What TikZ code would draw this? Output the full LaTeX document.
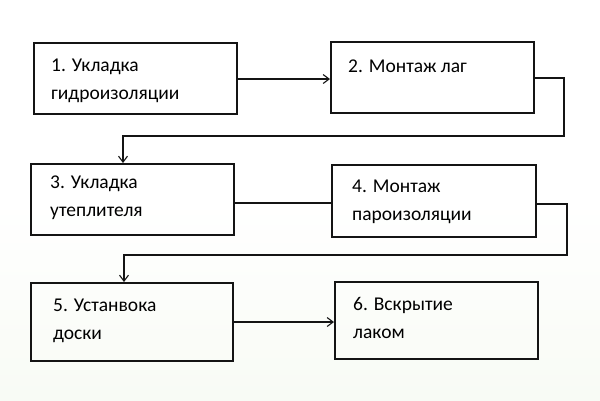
\documentclass[tikz,border=0pt]{standalone}
\usepackage{fontspec}
\setmainfont{Carlito}
\usetikzlibrary{arrows.meta}
\definecolor{bgbottom}{RGB}{248,251,245}
\definecolor{linec}{RGB}{20,20,20}
\newcommand{\twoline}[2]{\begin{tabular}[t]{@{}l@{}}#1\\#2\end{tabular}}
\tikzset{
  stepbox/.style={draw=linec, line width=1.6pt, inner sep=0pt, anchor=north west},
  steptext/.style={anchor=base west, inner sep=0pt, font=\fontsize{19.5}{28}\selectfont, text=black},
  conn/.style={draw=linec, line width=1.1pt},
  arr/.style={conn, -{Straight Barb[length=6pt, width=9pt, line width=1.1pt]}}
}
\begin{document}
\begin{tikzpicture}[x=1pt, y=-1pt]
\useasboundingbox (0,0) rectangle (600,400);
\shade[top color=white, bottom color=bgbottom, middle color=white] (0,0) rectangle (600,400);
% boxes
\node[stepbox, minimum width=203pt, minimum height=71pt] (b1) at (33,42) {};
\node[stepbox, minimum width=203pt, minimum height=71pt] (b2) at (330,41) {};
\node[stepbox, minimum width=203pt, minimum height=71pt] (b3) at (30,163) {};
\node[stepbox, minimum width=204pt, minimum height=72pt] (b4) at (331,164) {};
\node[stepbox, minimum width=202pt, minimum height=78pt] (b5) at (30,282) {};
\node[stepbox, minimum width=203pt, minimum height=77pt] (b6) at (334,281) {};
% texts
\node[steptext] (t1) at (51,71) {\twoline{1. Укладка}{гидроизоляции}};
\node[steptext] (t2) at (348,72) {2. Монтаж лаг};
\node[steptext] (t3) at (50,188) {\twoline{3. Укладка}{утеплителя}};
\node[steptext] (t4) at (352,192) {\twoline{4. Монтаж}{пароизоляции}};
\node[steptext] (t5) at (53,311) {\twoline{5. Устанвока}{доски}};
\node[steptext] (t6) at (353,310) {\twoline{6. Вскрытие}{лаком}};
% connectors
\draw[arr] (b1.east |- 0,79) -- (b2.west |- 0,79);
\draw[arr] (b2.east |- 0,78) -- (564,78) -- (564,136) -- (123,136) -- (b3.north -| 123,0);
\draw[conn] (b3.east |- 0,203) -- (b4.west |- 0,203);
\draw[arr] (b4.east |- 0,204) -- (567,204) -- (567,255) -- (124,255) -- (b5.north -| 124,0);
\draw[arr] (b5.east |- 0,322) -- (b6.west |- 0,322);
\end{tikzpicture}
\end{document}
